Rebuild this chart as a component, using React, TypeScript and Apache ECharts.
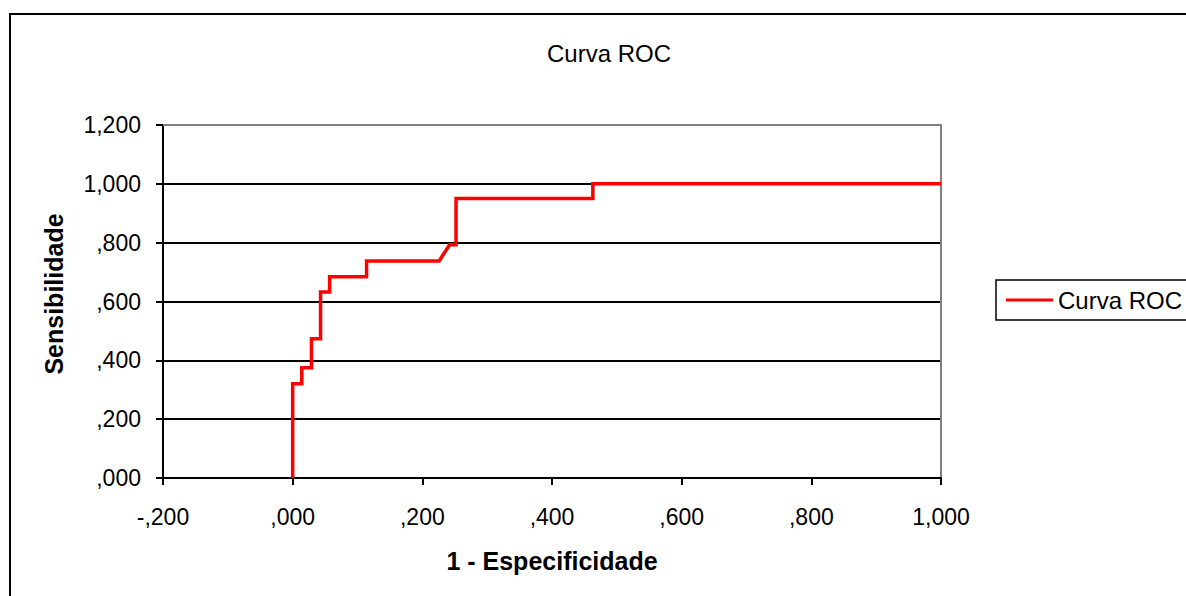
import React, { useEffect, useRef } from "react";
import * as echarts from "echarts";

const fpr = [0, 0, 0.014, 0.014, 0.029, 0.029, 0.043, 0.043, 0.057, 0.057, 0.114, 0.114, 0.226, 0.242, 0.252, 0.252, 0.463, 0.463, 1];
const sens = [0, 0.32, 0.32, 0.375, 0.375, 0.473, 0.473, 0.632, 0.632, 0.684, 0.684, 0.738, 0.738, 0.793, 0.793, 0.95, 0.95, 1, 1];
const seriesName = "Curva ROC";
const titleText = "Curva ROC";
const xName = "1 - Especificidade";
const yName = "Sensibilidade";

function fmt(v: number): string {
  const s = v < -1e-9 ? "-" : "";
  const a = Math.abs(v);
  let ip = Math.floor(a + 1e-9);
  let dec = Math.round((a - ip) * 1000);
  if (dec === 1000) { ip += 1; dec = 0; }
  return s + (ip ? String(ip) : "") + "," + String(dec).padStart(3, "0");
}

const FONT = "'Liberation Sans', Arial, sans-serif";

export default function App() {
  const ref = useRef<HTMLDivElement>(null);
  useEffect(() => {
    if (!ref.current) return;
    const chart = echarts.init(ref.current, null, { renderer: "svg" });
    const data = fpr.map((x, i) => [x, sens[i]]);
    chart.setOption({
      animation: false,
      backgroundColor: "#fff",
      textStyle: { fontFamily: FONT },
      title: {
        text: titleText,
        left: 604,
        top: 36,
        textAlign: "center",
        textStyle: { fontFamily: FONT, fontSize: 24, fontWeight: "normal", color: "#000" },
      },
      legend: {
        left: 996,
        top: 280,
        orient: "vertical",
        padding: [8, 10, 8, 10],
        borderColor: "#000",
        borderWidth: 1.5,
        itemWidth: 47,
        itemHeight: 3,
        icon: "rect",
        textStyle: { fontFamily: FONT, fontSize: 24, color: "#000" },
        data: [seriesName],
      },
      graphic: [
        {
          type: "rect",
          shape: { x: 10, y: 14, width: 1200, height: 620 },
          style: { fill: "none", stroke: "#000", lineWidth: 2 },
          silent: true,
          z: -1,
        },
        {
          type: "text",
          x: 54,
          y: 294,
          rotation: Math.PI / 2,
          style: {
            text: yName,
            fontFamily: FONT,
            fontSize: 25,
            fontWeight: "bold",
            fill: "#000",
            align: "center",
            verticalAlign: "middle",
          },
          silent: true,
        },
      ],
      grid: { left: 163, right: 245, top: 125, bottom: 118, containLabel: false },
      xAxis: [
        {
          type: "value",
          min: -0.2,
          max: 1,
          interval: 0.2,
          name: xName,
          nameLocation: "middle",
          nameGap: 70,
          nameTextStyle: { fontFamily: FONT, fontSize: 25, fontWeight: "bold", color: "#000" },
          axisLine: { show: true, onZero: false, lineStyle: { color: "#000", width: 2 } },
          axisTick: { show: true, length: 7, lineStyle: { color: "#000", width: 2 } },
          axisLabel: { formatter: fmt, color: "#000", fontSize: 23, fontFamily: FONT, margin: 27 },
          splitLine: { show: false },
        },
        {
          type: "value",
          position: "top",
          min: -0.2,
          max: 1,
          interval: 0.2,
          axisLine: { show: true, onZero: false, lineStyle: { color: "#808080", width: 2 } },
          axisTick: { show: false },
          axisLabel: { show: false },
          splitLine: { show: false },
        },
      ],
      yAxis: [
        {
          type: "value",
          min: 0,
          max: 1.2,
          interval: 0.2,
          axisLine: { show: true, onZero: false, lineStyle: { color: "#000", width: 2 } },
          axisTick: { show: true, length: 7, lineStyle: { color: "#000", width: 2 } },
          axisLabel: { formatter: fmt, color: "#000", fontSize: 23, fontFamily: FONT, margin: 22 },
          splitLine: { show: true, showMaxLine: false, lineStyle: { color: "#000", width: 2 } },
        },
        {
          type: "value",
          position: "right",
          min: 0,
          max: 1.2,
          interval: 0.2,
          axisLine: { show: true, onZero: false, lineStyle: { color: "#808080", width: 2 } },
          axisTick: { show: false },
          axisLabel: { show: false },
          splitLine: { show: false },
        },
      ],
      series: [
        {
          name: seriesName,
          type: "line",
          data,
          xAxisIndex: 0,
          yAxisIndex: 0,
          symbol: "none",
          lineStyle: { color: "#ff0000", width: 3.5, join: "miter" },
          itemStyle: { color: "#ff0000" },
          z: 5,
        },
      ],
    });
    return () => chart.dispose();
  }, []);
  return (
    <div
      ref={ref}
      style={{ position: "fixed", left: 0, top: 0, width: 1186, height: 596 }}
    />
  );
}
